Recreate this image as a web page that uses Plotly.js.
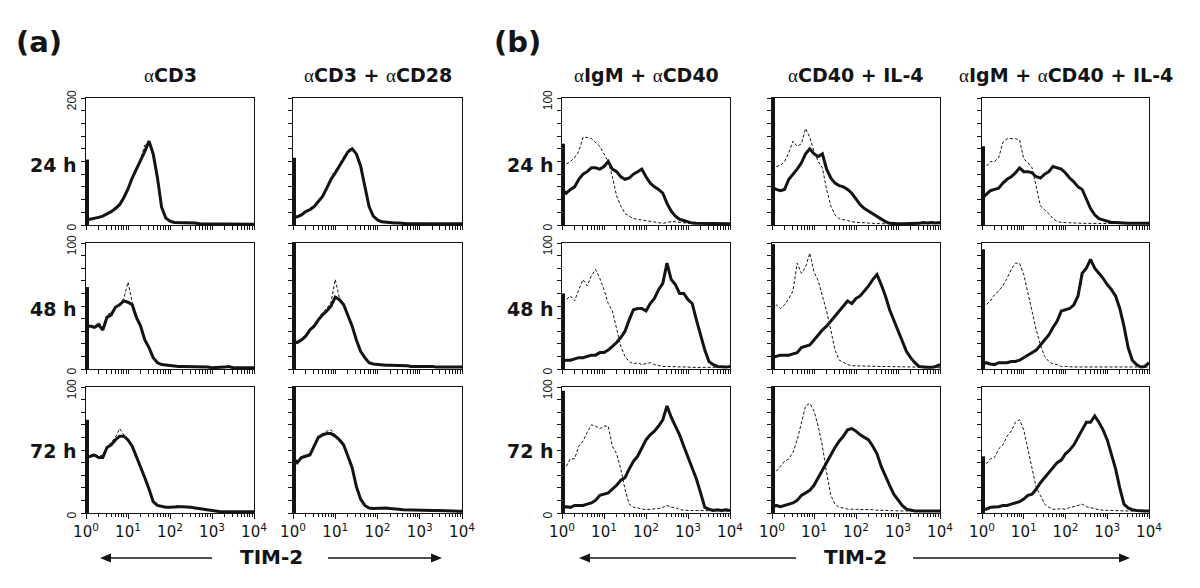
<!DOCTYPE html>
<html><head><meta charset="utf-8">
<script src="https://cdn.plot.ly/plotly-3.0.1.min.js"></script>
<style>html,body{margin:0;padding:0;background:#fff}#chart{width:1200px;height:588px}</style>
</head><body><div id="chart"></div>
<script>
// shared fluorescence bins, in decades (10^bin)
const logBins = [0.0,0.1,0.2,0.3,0.4,0.5,0.6,0.7,0.8,0.9,1.0,1.1,1.2,1.3,1.4,1.5,1.6,1.7,1.8,1.9,2.0,2.1,2.2,2.3,2.4,2.5,2.6,2.7,2.8,2.9,3.0,3.1,3.2,3.3,3.4,3.5,3.6,3.7,3.8,3.9,4.0];

const columnTitles = ['αCD3', 'αCD3 + αCD28', 'αIgM + αCD40', 'αCD40 + IL-4', 'αIgM + αCD40 + IL-4'];
const rowLabels = ['24 h', '48 h', '72 h'];
const xTickVals = [1, 10, 100, 1000, 10000];
const xTickText = ['10<sup>0</sup>', '10<sup>1</sup>', '10<sup>2</sup>', '10<sup>3</sup>', '10<sup>4</sup>'];
const xMinorVals = [2,3,4,5,6,7,8,9,20,30,40,50,60,70,80,90,200,300,400,500,600,700,800,900,2000,3000,4000,5000,6000,7000,8000,9000];
const axisLabel = 'TIM-2';

// (a) T cells, solid = TIM-2, dashed = control
const aCD3_24_tim2 = [8,9,10,12,14,17,21,26,32,43, 57,74,88,100,116,132,112,75,28,11, 6,4,4,4,3,3,3,2,2,2, 1.5,1,1,1,1,1,1,1,1,1, 1];
const aCD3_24_ctrl = [8,9,11,13,15,17,22,28,34,45, 59,76,90,104,126,128,108,72,27,11, 6,5,4,4,4,3,3,3,2,2, 2,1,1,1,1,1,1,1,1,1, 1];
const aCD3CD28_24_tim2 = [12,13,16,21,24,29,37,45,58,72, 82,93,103,115,120,112,93,61,29,14, 8,5,4,3,3,3,2,2,2,2, 2,2,2,2,2,2,2,2,2,2, 2];
const aCD3CD28_24_ctrl = [12,14,17,22,26,31,38,47,60,74, 85,96,106,118,122,110,90,60,28,14, 8,5,4,4,3,3,3,2,2,2, 2,2,2,2,2,2,2,2,2,2, 2];
const aCD3_48_tim2 = [34,34,33,35,31,41,43,49,51,54, 53,51,41,34,23,17,9,5,3.5,3, 3,2.5,2,2,2,2,1.5,1.5,1.5,1.5, 1,1,1,1.5,2,1,1,1,1,1, 1];
const aCD3_48_ctrl = [36,35,34,37,33,43,45,48,52,56, 69,53,42,35,24,17,9,5,3.5,3, 3,2.5,2.5,2,2,2,1.5,1.5,1.5,1.5, 1,1,1,1.5,2,1,1,1,1,1, 1];
const aCD3CD28_48_tim2 = [22,21,23,26,31,34,39,43,46,50, 57,55,51,43,34,23,14,9,5,4, 3.5,3,3,3,3,3,2.5,2.5,2,2, 2,2,2.5,2,1.5,1.5,1.5,1.5,1.5,1.5, 1.5];
const aCD3CD28_48_ctrl = [23,22,24,27,32,35,40,45,48,53, 71,56,52,44,35,24,14,9,5,4, 3.5,3,3,3,3,3,2.5,2.5,2,2, 2,2,2.5,2,1.5,1.5,1.5,1.5,1.5,1.5, 1.5];
const aCD3_72_tim2 = [44,45,46,44,44,52,54,58,61,61, 58,53,45,37,28,19,9,6,5,4.5, 4.5,5,5,5,5,4.5,4,3.5,3,2, 1.5,1,1,1,1,1,1,1,1,1, 1];
const aCD3_72_ctrl = [46,46,47,45,46,53,56,60,67,62, 59,54,46,38,29,20,10,6,5,4.5, 5,5,6,5,5,5,4,3.5,3,2, 1.5,1,1,1,1,1,1,1,1,1, 1];
const aCD3CD28_72_tim2 = [44,40,44,45,46,53,60,62,63,63, 61,58,54,45,36,21,11,6,4,3.5, 3.7,4,4,3.5,3.5,3,2.6,2.5,2,2, 2,2,2,2,2,2,1.5,1.5,1.5,1.3, 1.3];
const aCD3CD28_72_ctrl = [45,41,45,46,47,54,61,63,65,66, 62,59,55,46,37,22,11,6,4,3.5, 4,4,4,3.5,3.5,3,3,2.5,2,2, 2,2,2,2,2,2,1.5,1.5,1.5,1.3, 1.3];

// (b) B cells
const bIgMCD40_24_tim2 = [28,25,28,30,36,40,42,45,45,44, 46,50,44,42,38,36,37,40,42,44, 38,33,30,28,25,17,11,7,4.5,3.5, 2,1.5,1.3,1.3,1.3,1.3,1.5,1,1.5,1, 1];
const bIgMCD40_24_ctrl = [46,48,50,53,58,69,69,68,65,62, 56,50,38,23,15,9,7,5,4.5,4, 3.5,2.7,2,1.5,1.3,2,2.7,2.5,2,1.5, 1.3,1,1,1,1,1,1,1,1,1, 1];
const bCD40IL4_24_tim2 = [30,28,27,28,36,40,44,49,56,60, 56,54,56,44,37,33,31,30,28,25, 20,16,13,11,8.5,7,4.5,2.7,1.3,1, 1,1,1,1.3,1.5,1.3,2,1.5,2,1.5, 2];
const bCD40IL4_24_ctrl = [48,46,47,50,57,66,62,64,76,69, 58,50,45,28,15,8,5,4,3.5,2.7, 2,2,2,1.5,1.3,1,1,1,1,1, 1,1,1,1,1,1,1,1,1,1, 1];
const bAll_24_tim2 = [21,24,27,28,29,33,36,38,41,45, 42,42,41,38,37,40,42,46,45,44, 41,37,34,30,28,20,13,8,5,4, 2.7,2,2,1.5,1.5,1.3,1.3,1.5,1.3,1.5, 1.3];
const bAll_24_ctrl = [45,46,50,50,53,65,68,68,68,67, 52,49,45,30,15,12,9,5,2.7,2, 2,2,2,1.5,1.3,1.3,1,1,1,1, 1,1,1,1,1,1,1,1,1,1, 1];
const bIgMCD40_48_tim2 = [6,7,7,8,9,9,10,11,11,13, 13,15,18,21,25,30,39,47,48,48, 46,52,56,63,68,84,71,67,60,60, 55,52,39,26,15,6,3.5,2,1.5,1.5, 2];
const bIgMCD40_48_ctrl = [56,55,58,54,63,71,66,74,79,72, 63,52,46,31,18,10,6,4,5,3.5, 4,5,3.5,2.6,2,2,2,2,2,1.5, 1.5,1.3,1.3,1.3,1.3,1.3,1.3,1.3,1.3,1.3, 1.3];
const bCD40IL4_48_tim2 = [9,10,11,11,11,12,13,17,18,19, 23,27,31,34,38,42,46,50,54,52, 56,58,62,66,71,75,67,58,47,39, 30,22,14,9,5,2,1.5,1.3,1.3,2, 3.5];
const bCD40IL4_48_ctrl = [48,51,48,51,56,62,84,76,81,92, 77,70,58,46,31,15,7,5,3.5,2.6, 2.5,2,2,2,2,2,2,2,2,2, 1.5,1.5,1.5,1.5,1.5,1.5,1,1,1,1, 1];
const bAll_48_tim2 = [3.5,5,4,3.5,5,5,5,6,6,7, 9,11,13,15,19,23,27,33,38,46, 47,48,51,58,76,80,87,80,76,72, 67,63,58,48,34,17,7,3.5,1.6,2, 5];
const bAll_48_ctrl = [50,51,54,59,62,66,72,79,84,84, 75,60,47,31,19,10,6,4,3.5,2, 2,1.6,1.6,1.6,1.6,1.6,1.6,1.6,2,1.6, 1.6,1.6,1.6,1.6,1.6,2,1.6,1.6,1.6,1.6, 1.6];
const bIgMCD40_72_tim2 = [4.5,5,4.5,6,6,6,7,8,10,14, 15,16,19,22,26,28,35,41,45,51, 58,62,65,69,74,85,76,69,62,53, 44,35,27,16,4.5,3,2,2.6,2,2.6, 2];
const bIgMCD40_72_ctrl = [39,37,43,43,53,57,64,70,69,67, 69,69,53,47,35,19,7,4.5,4,3, 2.6,3,3,3.5,4.5,6,4.5,4.5,2.6,2, 2,2,2,2,2,1.6,1.6,1.6,1.6,1.6, 1.6];
const bCD40IL4_72_tim2 = [4.5,6,5,6,7,8,10,14,16,18, 22,28,35,40,46,52,57,61,66,67, 65,62,60,58,53,47,37,29,22,15, 10,6,3,2,1.6,1.6,1.6,1.6,1.6,1.6, 1.6];
const bCD40IL4_72_ctrl = [35,33,37,41,43,48,58,72,85,87, 81,69,53,32,14,7,4.5,4,3,3, 3,2.6,2.6,2.6,2.6,2.2,2,2,2,1.8, 1.6,1.6,1.6,1.6,1.6,1.6,1.6,1.6,1.6,1.6, 1.6];
const bAll_72_tim2 = [3,3,4.5,4.5,5,6,6,7,8,9, 11,14,15,19,24,28,32,36,40,42, 47,50,54,60,66,72,72,77,72,66, 58,47,35,20,7,4,2.6,2,1.6,1.6, 1.6];
const bAll_72_ctrl = [37,39,43,44,51,54,61,65,72,74, 66,50,35,20,14,7,4.5,3,3,3.5, 3,4.5,5,6,7,5,4,3,2.6,2.2, 2,2,1.8,1.6,1.6,1.6,1.6,1.6,1.6,1.6, 1.6];

// height of the pile-up in the first (lowest) channel, per panel
const firstBinSpike = {
  aCD3_24: 103, aCD3CD28_24: 106, aCD3_48: 65, aCD3CD28_48: 100, aCD3_72: 74, aCD3CD28_72: 100,
  bIgMCD40_24: 64, bCD40IL4_24: 100, bAll_24: 62,
  bIgMCD40_48: 60, bCD40IL4_48: 99, bAll_48: 95,
  bIgMCD40_72: 97, bCD40IL4_72: 100, bAll_72: 45
};
</script>
<script>
const W = 1200, H = 588;
const colX = [[86,254],[293,462],[562,730],[772,940],[982,1149]];
const rowY = [[98,225],[243,369],[387,513]];
const xs = logBins.map(v => Math.pow(10, v));
const ink = '#141414';
const sans = 'DejaVu Sans, Liberation Sans, Arial, sans-serif';

const panels = [
  {c:0,r:0,key:'aCD3_24',t:aCD3_24_tim2,k:aCD3_24_ctrl,top:200},
  {c:1,r:0,key:'aCD3CD28_24',t:aCD3CD28_24_tim2,k:aCD3CD28_24_ctrl,top:200},
  {c:0,r:1,key:'aCD3_48',t:aCD3_48_tim2,k:aCD3_48_ctrl,top:100},
  {c:1,r:1,key:'aCD3CD28_48',t:aCD3CD28_48_tim2,k:aCD3CD28_48_ctrl,top:100},
  {c:0,r:2,key:'aCD3_72',t:aCD3_72_tim2,k:aCD3_72_ctrl,top:100},
  {c:1,r:2,key:'aCD3CD28_72',t:aCD3CD28_72_tim2,k:aCD3CD28_72_ctrl,top:100},
  {c:2,r:0,key:'bIgMCD40_24',t:bIgMCD40_24_tim2,k:bIgMCD40_24_ctrl,top:100},
  {c:3,r:0,key:'bCD40IL4_24',t:bCD40IL4_24_tim2,k:bCD40IL4_24_ctrl,top:100},
  {c:4,r:0,key:'bAll_24',t:bAll_24_tim2,k:bAll_24_ctrl,top:100},
  {c:2,r:1,key:'bIgMCD40_48',t:bIgMCD40_48_tim2,k:bIgMCD40_48_ctrl,top:100},
  {c:3,r:1,key:'bCD40IL4_48',t:bCD40IL4_48_tim2,k:bCD40IL4_48_ctrl,top:100},
  {c:4,r:1,key:'bAll_48',t:bAll_48_tim2,k:bAll_48_ctrl,top:100},
  {c:2,r:2,key:'bIgMCD40_72',t:bIgMCD40_72_tim2,k:bIgMCD40_72_ctrl,top:100},
  {c:3,r:2,key:'bCD40IL4_72',t:bCD40IL4_72_tim2,k:bCD40IL4_72_ctrl,top:100},
  {c:4,r:2,key:'bAll_72',t:bAll_72_tim2,k:bAll_72_ctrl,top:100}
];

const data = [];
const layout = {
  width: W, height: H, margin: {l:0,r:0,t:0,b:0},
  paper_bgcolor: '#fff', plot_bgcolor: '#fff', showlegend: false,
  font: {family: sans, color: ink},
  annotations: [], shapes: []
};

panels.forEach((p, i) => {
  const n = i + 1;
  const xr = 'x' + n, yr = 'y' + n;
  const [x0, x1] = colX[p.c];
  const [y0, y1] = rowY[p.r];
  const labelY = (p.c === 0 || p.c === 2);
  const labelX = (p.r === 2);
  layout['xaxis' + n] = {
    type: 'log', range: [0, 4], domain: [x0 / W, x1 / W], anchor: yr,
    showline: true, mirror: true, linecolor: ink, linewidth: 1,
    showgrid: false, zeroline: false,
    ticks: 'outside', ticklen: 5, tickwidth: 1, tickcolor: ink,
    tickmode: 'array',
    tickvals: labelX ? xTickVals : [],
    ticktext: labelX ? xTickText : [],
    showticklabels: labelX,
    tickfont: {family: sans, size: 15, color: ink},
    minor: {tickmode: 'array', tickvals: labelX ? xMinorVals : xTickVals.concat(xMinorVals),
            ticks: 'outside', ticklen: labelX ? 3 : 4, tickwidth: 1, tickcolor: ink, showgrid: false}
  };
  layout['yaxis' + n] = {
    range: [0, p.top], domain: [1 - y1 / H, 1 - y0 / H], anchor: xr,
    showline: true, mirror: true, linecolor: ink, linewidth: 1,
    showgrid: false, zeroline: false,
    ticks: 'outside', ticklen: 4, tickwidth: 1, tickcolor: ink,
    tickmode: 'array',
    tickvals: labelY ? [0, p.top] : [],
    ticktext: labelY ? ['0', String(p.top)] : [],
    tickangle: -90, showticklabels: labelY, ticklabelshift: 4,
    tickfont: {family: 'Liberation Sans Narrow, Liberation Sans, Arial, sans-serif', size: 12, color: ink},
    minor: {dtick: p.top / 10, ticks: 'outside', ticklen: 4, tickwidth: 1, tickcolor: ink, showgrid: false}
  };
  data.push({
    type: 'scatter', mode: 'lines', x: xs, y: p.k, xaxis: xr, yaxis: yr,
    line: {color: ink, width: 1, dash: '3px,2px'}, hoverinfo: 'skip'
  });
  data.push({
    type: 'scatter', mode: 'lines', x: xs, y: p.t, xaxis: xr, yaxis: yr,
    line: {color: ink, width: 3}, hoverinfo: 'skip'
  });
  data.push({
    type: 'scatter', mode: 'lines', x: [xs[0], xs[0]], y: [0, firstBinSpike[p.key]],
    xaxis: xr, yaxis: yr, line: {color: ink, width: 6}, hoverinfo: 'skip'
  });
});

const ann = layout.annotations;
const px = v => v / W, py = v => 1 - v / H;
const bold = {family: sans, color: ink, weight: 'bold'};
const alpha = s => s.replace(/α/g, '<span style="font-family:\'Liberation Serif\',serif;font-weight:normal">α</span>');

ann.push({text: '(a)', x: px(14), y: py(42), xref: 'paper', yref: 'paper', xanchor: 'left', yanchor: 'middle', showarrow: false, font: Object.assign({}, bold, {size: 29})});
ann.push({text: '(b)', x: px(492), y: py(42), xref: 'paper', yref: 'paper', xanchor: 'left', yanchor: 'middle', showarrow: false, font: Object.assign({}, bold, {size: 29})});

columnTitles.forEach((t, c) => {
  const cx = (colX[c][0] + colX[c][1]) / 2;
  ann.push({text: alpha(t), x: px(cx), y: py(75), xref: 'paper', yref: 'paper', xanchor: 'center', yanchor: 'middle', showarrow: false, font: Object.assign({}, bold, {size: 19})});
});
const rowLabelY = [165, 309, 451];
rowLabels.forEach((t, r) => {
  [53, 530].forEach(cx => {
    ann.push({text: t, x: px(cx), y: py(rowLabelY[r]), xref: 'paper', yref: 'paper', xanchor: 'center', yanchor: 'middle', showarrow: false, font: Object.assign({}, bold, {size: 19})});
  });
});

// axis label with arrows (drawn as shapes)
const arrow = (tail, head, y) => {
  const dir = head < tail ? -1 : 1;
  const hl = 11, hw = 4.5;
  layout.shapes.push({type: 'line', xref: 'paper', yref: 'paper', x0: px(tail), x1: px(head - dir * hl * 0.6), y0: py(y), y1: py(y), line: {color: ink, width: 1.5}});
  layout.shapes.push({type: 'path', xref: 'paper', yref: 'paper',
    path: 'M ' + px(head) + ' ' + py(y) + ' L ' + px(head - dir * hl) + ' ' + py(y - hw) + ' L ' + px(head - dir * hl) + ' ' + py(y + hw) + ' Z',
    fillcolor: ink, line: {width: 0}});
};
[[271, 100, 212, 328, 442], [855, 579, 796, 913, 1130]].forEach(g => {
  ann.push({text: axisLabel, x: px(g[0]), y: py(557), xref: 'paper', yref: 'paper', xanchor: 'center', yanchor: 'middle', showarrow: false, font: Object.assign({}, bold, {size: 20})});
  arrow(g[2], g[1], 558);
  arrow(g[3], g[4], 558);
});

Plotly.newPlot('chart', data, layout, {staticPlot: true, displayModeBar: false});
</script>
</body></html>
